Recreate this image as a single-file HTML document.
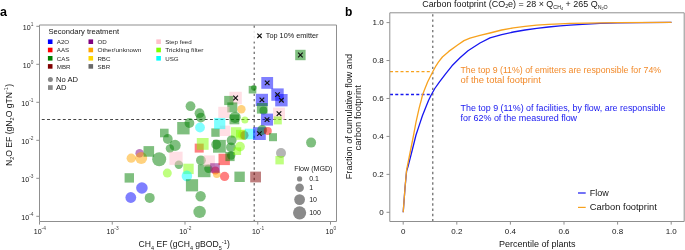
<!DOCTYPE html>
<html><head><meta charset="utf-8"><style>
html,body{margin:0;padding:0;background:#fff;width:685px;height:250px;overflow:hidden}
svg{display:block;will-change:transform}
</style></head><body>
<svg width="685" height="250" viewBox="0 0 685 250" font-family='"Liberation Sans", sans-serif'>
<rect width="685" height="250" fill="#fff"/>
<text x="0" y="16" font-size="12.5" font-weight="bold" fill="#000">a</text>
<line x1="41.8" y1="119.5" x2="336" y2="119.5" stroke="#444" stroke-width="1.1" stroke-dasharray="2.9 2.355"/>
<line x1="254.2" y1="25.4" x2="254.2" y2="221" stroke="#555" stroke-width="1.1" stroke-dasharray="2.4 2.855"/>
<circle cx="131.2" cy="158.2" r="4.6" fill="#ffa500" fill-opacity="0.5"/>
<circle cx="139.6" cy="153.2" r="4.2" fill="#800080" fill-opacity="0.5"/>
<circle cx="141.2" cy="158" r="6" fill="#ffa500" fill-opacity="0.5"/>
<rect x="143.50" y="146.10" width="10.60" height="10.60" fill="#008000" fill-opacity="0.5"/>
<circle cx="159.2" cy="159.2" r="7" fill="#008000" fill-opacity="0.5"/>
<rect x="160.00" y="128.70" width="8.60" height="8.60" fill="#008000" fill-opacity="0.5"/>
<circle cx="167.8" cy="139" r="4.9" fill="#008000" fill-opacity="0.5"/>
<circle cx="175.1" cy="145.4" r="5.6" fill="#008000" fill-opacity="0.5"/>
<circle cx="169.9" cy="148.5" r="4.2" fill="#008000" fill-opacity="0.5"/>
<circle cx="178.8" cy="164.8" r="4.2" fill="#008000" fill-opacity="0.5"/>
<rect x="169.40" y="151.70" width="13.20" height="13.20" fill="#ffc0cb" fill-opacity="0.5"/>
<rect x="177.20" y="122.00" width="12.40" height="12.40" fill="#008000" fill-opacity="0.5"/>
<circle cx="189.4" cy="123" r="4.9" fill="#008000" fill-opacity="0.5"/>
<circle cx="190.5" cy="106.2" r="4.9" fill="#008000" fill-opacity="0.5"/>
<circle cx="199.5" cy="113.2" r="4.9" fill="#008000" fill-opacity="0.5"/>
<circle cx="200.9" cy="117.6" r="4.9" fill="#008000" fill-opacity="0.5"/>
<circle cx="200" cy="127.5" r="4.9" fill="#00ffff" fill-opacity="0.5"/>
<rect x="124.60" y="173.20" width="9.40" height="9.40" fill="#008000" fill-opacity="0.5"/>
<circle cx="141.9" cy="188" r="5.8" fill="#0000ff" fill-opacity="0.5"/>
<circle cx="130.8" cy="197.5" r="5.4" fill="#0000ff" fill-opacity="0.5"/>
<circle cx="149.7" cy="197.9" r="5" fill="#008000" fill-opacity="0.5"/>
<circle cx="167.3" cy="173.1" r="4.5" fill="#7fff00" fill-opacity="0.5"/>
<rect x="183.30" y="163.70" width="10.40" height="10.40" fill="#7fff00" fill-opacity="0.5"/>
<circle cx="186.9" cy="175.9" r="5.3" fill="#00ffff" fill-opacity="0.5"/>
<rect x="185.90" y="179.20" width="12.20" height="12.20" fill="#008000" fill-opacity="0.5"/>
<circle cx="200.6" cy="196.3" r="5.2" fill="#008000" fill-opacity="0.5"/>
<circle cx="199.6" cy="211.9" r="6.2" fill="#008000" fill-opacity="0.5"/>
<circle cx="200.9" cy="160.3" r="4.9" fill="#008000" fill-opacity="0.5"/>
<rect x="197.90" y="164.60" width="12.60" height="12.60" fill="#008000" fill-opacity="0.5"/>
<circle cx="208.4" cy="168.8" r="4.2" fill="#008000" fill-opacity="0.5"/>
<rect x="203.70" y="155.40" width="11.20" height="11.20" fill="#ffc0cb" fill-opacity="0.5"/>
<rect x="194.70" y="143.60" width="9.00" height="9.00" fill="#ff0000" fill-opacity="0.5"/>
<rect x="196.80" y="138.00" width="11.80" height="11.80" fill="#7fff00" fill-opacity="0.5"/>
<circle cx="215.4" cy="170.4" r="4" fill="#ff0000" fill-opacity="0.5"/>
<circle cx="216.8" cy="174.2" r="3.8" fill="#ffa500" fill-opacity="0.5"/>
<rect x="210.20" y="163.20" width="9.60" height="9.60" fill="#800080" fill-opacity="0.5"/>
<circle cx="224.6" cy="176.4" r="4.6" fill="#ff0000" fill-opacity="0.5"/>
<rect x="218.50" y="153.70" width="11.40" height="11.40" fill="#ff0000" fill-opacity="0.5"/>
<rect x="225.40" y="151.90" width="9.20" height="9.20" fill="#008000" fill-opacity="0.5"/>
<circle cx="231.2" cy="155.5" r="4.2" fill="#008000" fill-opacity="0.5"/>
<rect x="234.40" y="171.60" width="10.40" height="10.40" fill="#008000" fill-opacity="0.5"/>
<rect x="250.20" y="171.60" width="10.80" height="10.80" fill="#800000" fill-opacity="0.5"/>
<rect x="211.30" y="128.40" width="8.40" height="8.40" fill="#008000" fill-opacity="0.5"/>
<rect x="219.80" y="125.60" width="10.40" height="10.40" fill="#ffc0cb" fill-opacity="0.5"/>
<rect x="214.10" y="117.90" width="11.20" height="11.20" fill="#00ffff" fill-opacity="0.5"/>
<circle cx="243.1" cy="134.8" r="5" fill="#ffd700" fill-opacity="0.5"/>
<circle cx="244.3" cy="135.2" r="4.3" fill="#800000" fill-opacity="0.5"/>
<rect x="230.90" y="127.20" width="10.40" height="10.40" fill="#7fff00" fill-opacity="0.5"/>
<rect x="236.00" y="129.80" width="10.00" height="10.00" fill="#7fff00" fill-opacity="0.5"/>
<rect x="244.70" y="128.70" width="10.60" height="10.60" fill="#00ffff" fill-opacity="0.5"/>
<circle cx="216.2" cy="144.5" r="4.9" fill="#008000" fill-opacity="0.5"/>
<rect x="213.00" y="139.90" width="12.80" height="12.80" fill="#008000" fill-opacity="0.5"/>
<circle cx="231.6" cy="140.3" r="4.9" fill="#008000" fill-opacity="0.5"/>
<circle cx="230.9" cy="147.3" r="4.9" fill="#008000" fill-opacity="0.5"/>
<circle cx="240" cy="146.6" r="4.9" fill="#7fff00" fill-opacity="0.5"/>
<rect x="233.50" y="147.40" width="7.60" height="7.60" fill="#7fff00" fill-opacity="0.5"/>
<rect x="229.40" y="91.80" width="12.40" height="12.40" fill="#ffc0cb" fill-opacity="0.5"/>
<rect x="224.20" y="95.90" width="9.20" height="9.20" fill="#008000" fill-opacity="0.5"/>
<rect x="227.30" y="102.40" width="10.00" height="10.00" fill="#008000" fill-opacity="0.5"/>
<rect x="218.30" y="106.80" width="11.20" height="11.20" fill="#ffc0cb" fill-opacity="0.5"/>
<circle cx="241.4" cy="109.3" r="4.2" fill="#ffa500" fill-opacity="0.5"/>
<circle cx="235.1" cy="117.3" r="5.6" fill="#008000" fill-opacity="0.5"/>
<rect x="229.50" y="114.50" width="9.80" height="9.80" fill="#008000" fill-opacity="0.5"/>
<circle cx="244.9" cy="120.1" r="3.5" fill="#7fff00" fill-opacity="0.5"/>
<rect x="248.70" y="85.90" width="7.60" height="7.60" fill="#008000" fill-opacity="0.5"/>
<circle cx="253.8" cy="87.8" r="2.8" fill="#008000" fill-opacity="0.5"/>
<rect x="261.30" y="77.00" width="11.80" height="11.80" fill="#0000ff" fill-opacity="0.5"/>
<rect x="271.30" y="88.40" width="12.40" height="12.40" fill="#0000ff" fill-opacity="0.5"/>
<rect x="275.20" y="94.00" width="12.40" height="12.40" fill="#0000ff" fill-opacity="0.5"/>
<rect x="255.80" y="93.80" width="12.20" height="12.20" fill="#0000ff" fill-opacity="0.5"/>
<rect x="256.90" y="103.00" width="10.60" height="10.60" fill="#008000" fill-opacity="0.5"/>
<circle cx="263.4" cy="110.4" r="4" fill="#008000" fill-opacity="0.5"/>
<rect x="273.00" y="107.60" width="12.00" height="12.00" fill="#ffc0cb" fill-opacity="0.5"/>
<rect x="261.00" y="113.60" width="12.00" height="12.00" fill="#0000ff" fill-opacity="0.5"/>
<rect x="273.80" y="116.40" width="8.00" height="8.00" fill="#7fff00" fill-opacity="0.5"/>
<rect x="253.00" y="127.20" width="12.80" height="12.80" fill="#0000ff" fill-opacity="0.5"/>
<circle cx="262.2" cy="130" r="5" fill="#008000" fill-opacity="0.5"/>
<circle cx="267.8" cy="131" r="4" fill="#ff0000" fill-opacity="0.5"/>
<rect x="269.00" y="133.20" width="8.00" height="8.00" fill="#008000" fill-opacity="0.5"/>
<circle cx="311.1" cy="142.6" r="5" fill="#008000" fill-opacity="0.5"/>
<circle cx="281" cy="153" r="5" fill="#696969" fill-opacity="0.5"/>
<rect x="275.40" y="156.00" width="8.40" height="8.40" fill="#7fff00" fill-opacity="0.5"/>
<rect x="295.20" y="49.80" width="10.40" height="10.40" fill="#008000" fill-opacity="0.5"/>
<path d="M233.30 95.70L237.90 100.30M237.90 95.70L233.30 100.30" stroke="#111" stroke-width="1.2" fill="none"/>
<path d="M264.90 80.60L269.50 85.20M269.50 80.60L264.90 85.20" stroke="#111" stroke-width="1.2" fill="none"/>
<path d="M275.20 92.30L279.80 96.90M279.80 92.30L275.20 96.90" stroke="#111" stroke-width="1.2" fill="none"/>
<path d="M279.10 97.90L283.70 102.50M283.70 97.90L279.10 102.50" stroke="#111" stroke-width="1.2" fill="none"/>
<path d="M259.60 97.60L264.20 102.20M264.20 97.60L259.60 102.20" stroke="#111" stroke-width="1.2" fill="none"/>
<path d="M276.70 111.30L281.30 115.90M281.30 111.30L276.70 115.90" stroke="#111" stroke-width="1.2" fill="none"/>
<path d="M264.70 117.30L269.30 121.90M269.30 117.30L264.70 121.90" stroke="#111" stroke-width="1.2" fill="none"/>
<path d="M257.10 131.30L261.70 135.90M261.70 131.30L257.10 135.90" stroke="#111" stroke-width="1.2" fill="none"/>
<path d="M298.10 52.70L302.70 57.30M302.70 52.70L298.10 57.30" stroke="#111" stroke-width="1.2" fill="none"/>
<path d="M39.5 25 H336.5 V221.5 H39.5 Z" fill="none" stroke="#8f8f8f" stroke-width="1"/>
<line x1="36.3" y1="26.3" x2="39.5" y2="26.3" stroke="#8f8f8f" stroke-width="1"/>
<text x="33.4" y="29.8" font-size="7.1" fill="#151515" text-anchor="end">10<tspan font-size="4.8" dy="-3.7" fill="#444">1</tspan></text>
<line x1="36.3" y1="64.3" x2="39.5" y2="64.3" stroke="#8f8f8f" stroke-width="1"/>
<text x="33.4" y="67.8" font-size="7.1" fill="#151515" text-anchor="end">10<tspan font-size="4.8" dy="-3.7" fill="#444">0</tspan></text>
<line x1="36.3" y1="102.3" x2="39.5" y2="102.3" stroke="#8f8f8f" stroke-width="1"/>
<text x="33.4" y="105.8" font-size="7.1" fill="#151515" text-anchor="end">10<tspan font-size="4.8" dy="-3.7" fill="#444">-1</tspan></text>
<line x1="36.3" y1="140.3" x2="39.5" y2="140.3" stroke="#8f8f8f" stroke-width="1"/>
<text x="33.4" y="143.8" font-size="7.1" fill="#151515" text-anchor="end">10<tspan font-size="4.8" dy="-3.7" fill="#444">-2</tspan></text>
<line x1="36.3" y1="178.3" x2="39.5" y2="178.3" stroke="#8f8f8f" stroke-width="1"/>
<text x="33.4" y="181.8" font-size="7.1" fill="#151515" text-anchor="end">10<tspan font-size="4.8" dy="-3.7" fill="#444">-3</tspan></text>
<line x1="36.3" y1="216.3" x2="39.5" y2="216.3" stroke="#8f8f8f" stroke-width="1"/>
<text x="33.4" y="219.8" font-size="7.1" fill="#151515" text-anchor="end">10<tspan font-size="4.8" dy="-3.7" fill="#444">-4</tspan></text>
<line x1="39.50" y1="221.5" x2="39.50" y2="224.6" stroke="#8f8f8f" stroke-width="1"/>
<text x="39.80" y="234.2" font-size="7.1" fill="#151515" text-anchor="middle">10<tspan font-size="4.8" dy="-3.9" fill="#444">-4</tspan></text>
<line x1="112.25" y1="221.5" x2="112.25" y2="224.6" stroke="#8f8f8f" stroke-width="1"/>
<text x="112.55" y="234.2" font-size="7.1" fill="#151515" text-anchor="middle">10<tspan font-size="4.8" dy="-3.9" fill="#444">-3</tspan></text>
<line x1="185.00" y1="221.5" x2="185.00" y2="224.6" stroke="#8f8f8f" stroke-width="1"/>
<text x="185.30" y="234.2" font-size="7.1" fill="#151515" text-anchor="middle">10<tspan font-size="4.8" dy="-3.9" fill="#444">-2</tspan></text>
<line x1="257.75" y1="221.5" x2="257.75" y2="224.6" stroke="#8f8f8f" stroke-width="1"/>
<text x="258.05" y="234.2" font-size="7.1" fill="#151515" text-anchor="middle">10<tspan font-size="4.8" dy="-3.9" fill="#444">-1</tspan></text>
<line x1="330.50" y1="221.5" x2="330.50" y2="224.6" stroke="#8f8f8f" stroke-width="1"/>
<text x="330.80" y="234.2" font-size="7.1" fill="#151515" text-anchor="middle">10<tspan font-size="4.8" dy="-3.9" fill="#444">0</tspan></text>
<text x="138.6" y="247.3" font-size="8.6" fill="#151515">CH<tspan font-size="5.5" dy="2.4">4</tspan><tspan dy="-2.4"> EF (gCH</tspan><tspan font-size="5.5" dy="2.4">4</tspan><tspan dy="-2.4"> gBOD</tspan><tspan font-size="5.5" dy="2.4">5</tspan><tspan font-size="5.5" dy="-6">-1</tspan><tspan dy="3.6" dx="0.3">)</tspan></text>
<text transform="translate(11.8,166) rotate(-90)" font-size="8.6" fill="#151515">N<tspan font-size="5.5" dy="2.4">2</tspan><tspan dy="-2.4">O EF (gN</tspan><tspan font-size="5.5" dy="2.4">2</tspan><tspan dy="-2.4">O gTN</tspan><tspan font-size="5.5" dy="-3.6">-1</tspan><tspan dy="3.6" dx="0.3">)</tspan></text>
<text x="48.5" y="34.3" font-size="7.6" fill="#151515">Secondary treatment</text>
<rect x="47.9" y="39.4" width="4.6" height="4.6" fill="#0000ff"/>
<text x="56.8" y="43.9" font-size="6.2" fill="#2a2a2a">A2O</text>
<rect x="47.9" y="47.7" width="4.6" height="4.6" fill="#ff0000"/>
<text x="56.8" y="52.2" font-size="6.2" fill="#2a2a2a">AAS</text>
<rect x="47.9" y="56.0" width="4.6" height="4.6" fill="#008000"/>
<text x="56.8" y="60.5" font-size="6.2" fill="#2a2a2a">CAS</text>
<rect x="47.9" y="64.1" width="4.6" height="4.6" fill="#800000"/>
<text x="56.8" y="68.6" font-size="6.2" fill="#2a2a2a">MBR</text>
<rect x="88.5" y="39.4" width="4.6" height="4.6" fill="#800080"/>
<text x="97.4" y="43.9" font-size="6.2" fill="#2a2a2a">OD</text>
<rect x="88.5" y="47.7" width="4.6" height="4.6" fill="#ffa500"/>
<text x="97.4" y="52.2" font-size="6.2" fill="#2a2a2a" textLength="44" lengthAdjust="spacingAndGlyphs">Other/unknown</text>
<rect x="88.5" y="56.0" width="4.6" height="4.6" fill="#ffd700"/>
<text x="97.4" y="60.5" font-size="6.2" fill="#2a2a2a">RBC</text>
<rect x="88.5" y="64.1" width="4.6" height="4.6" fill="#696969"/>
<text x="97.4" y="68.6" font-size="6.2" fill="#2a2a2a">SBR</text>
<rect x="156.3" y="39.4" width="4.6" height="4.6" fill="#ffc0cb"/>
<text x="165.2" y="43.9" font-size="6.2" fill="#2a2a2a" textLength="26.6" lengthAdjust="spacingAndGlyphs">Step feed</text>
<rect x="156.3" y="47.7" width="4.6" height="4.6" fill="#7fff00"/>
<text x="165.2" y="52.2" font-size="6.2" fill="#2a2a2a" textLength="38.3" lengthAdjust="spacingAndGlyphs">Trickling filter</text>
<rect x="156.3" y="56.0" width="4.6" height="4.6" fill="#00ffff"/>
<text x="165.2" y="60.5" font-size="6.2" fill="#2a2a2a">USG</text>
<circle cx="50.4" cy="79.5" r="2.5" fill="#888"/>
<text x="56" y="81.8" font-size="7.6" fill="#151515">No AD</text>
<rect x="48" y="85.2" width="4.7" height="4.7" fill="#888"/>
<text x="56" y="89.6" font-size="7.6" fill="#151515">AD</text>
<rect x="252" y="29.3" width="72" height="12.3" fill="#fff" fill-opacity="0.85"/>
<path d="M257.30 33.60L261.70 38.00M261.70 33.60L257.30 38.00" stroke="#111" stroke-width="1.2" fill="none"/>
<text x="265.8" y="37.7" font-size="7.3" fill="#151515">Top 10% emitter</text>
<text x="294.2" y="171.4" font-size="7.1" fill="#151515">Flow (MGD)</text>
<circle cx="299.6" cy="178.9" r="2.6" fill="#8a8a8a"/>
<text x="309.2" y="181.4" font-size="7" fill="#151515">0.1</text>
<circle cx="299.6" cy="187.8" r="4.3" fill="#8a8a8a"/>
<text x="309.2" y="190.3" font-size="7" fill="#151515">1</text>
<circle cx="299.6" cy="199.6" r="5.4" fill="#8a8a8a"/>
<text x="309.2" y="202.1" font-size="7" fill="#151515">10</text>
<circle cx="299.6" cy="212.8" r="6.6" fill="#8a8a8a"/>
<text x="309.2" y="215.3" font-size="7" fill="#151515">100</text>
<text x="345" y="15.8" font-size="12" font-weight="bold" fill="#000">b</text>
<text x="422.2" y="6.6" font-size="8.95" fill="#151515">Carbon footprint (CO<tspan font-size="5.3" dy="1.8">2</tspan><tspan dy="-1.8">e) = 28 &#215; Q</tspan><tspan font-size="5.3" dy="2">CH</tspan><tspan font-size="3.8" dy="1">4</tspan><tspan dy="-3"> + 265 Q</tspan><tspan font-size="5.3" dy="2">N</tspan><tspan font-size="3.8" dy="1">2</tspan><tspan font-size="5.3" dy="-1">O</tspan></text>
<line x1="432.8" y1="14.15" x2="432.8" y2="221" stroke="#555" stroke-width="1.1" stroke-dasharray="2.4 2.855"/>
<line x1="390" y1="71.7" x2="432" y2="71.7" stroke="#f7a21e" stroke-width="1.3" stroke-dasharray="3 2.255"/>
<line x1="390" y1="94.5" x2="432" y2="94.5" stroke="#1616f0" stroke-width="1.3" stroke-dasharray="3 2.255"/>
<polyline points="403.2,212.3 405,188 406.6,171 408,166.5 412,151 416,135 419.2,125.4 422.4,115.8 425.6,107.8 428.5,100.5 431.2,95 434.8,88.5 439.5,81.8 445.6,73.8 452,65.8 460,57.8 468,50.8 480,43 490,37.8 501.7,34.6 513.4,32 525,30 536.7,28.3 548.4,27 560.1,25.9 570,25.2 582.5,24.4 600,23.4 617.5,22.9 640,22.6 671.5,22.4" fill="none" stroke="#1616f0" stroke-width="1.3" stroke-linejoin="round"/>
<polyline points="403.2,212.3 405,188 406.6,170 407.2,167 410.4,151 413.6,135 416,122.2 419.2,107.8 421.3,100 422.4,95.5 424,91 427.6,82 433,71.2 436,65.8 438.4,62.2 442.4,57 448.8,51.4 457.6,45 464,40.6 470,38.2 480,35.4 490,33 501.7,30 513.4,27.9 525,26.4 536.7,25.2 548.4,24.4 560.1,23.8 570,23.4 617.5,22.7 671.5,22.4" fill="none" stroke="#f7a21e" stroke-width="1.3" stroke-linejoin="round"/>
<path d="M389.8 12.8 H684.2 V221.5 H389.8 Z" fill="none" stroke="#8f8f8f" stroke-width="1"/>
<line x1="386.5" y1="212.30" x2="389.8" y2="212.30" stroke="#8f8f8f" stroke-width="1"/>
<text x="383.6" y="215.10" font-size="8" fill="#151515" text-anchor="end">0</text>
<line x1="403.20" y1="221.5" x2="403.20" y2="224.6" stroke="#8f8f8f" stroke-width="1"/>
<text x="403.20" y="233.6" font-size="8" fill="#151515" text-anchor="middle">0</text>
<line x1="386.5" y1="174.36" x2="389.8" y2="174.36" stroke="#8f8f8f" stroke-width="1"/>
<text x="383.6" y="177.16" font-size="8" fill="#151515" text-anchor="end">0.2</text>
<line x1="456.80" y1="221.5" x2="456.80" y2="224.6" stroke="#8f8f8f" stroke-width="1"/>
<text x="456.80" y="233.6" font-size="8" fill="#151515" text-anchor="middle">0.2</text>
<line x1="386.5" y1="136.42" x2="389.8" y2="136.42" stroke="#8f8f8f" stroke-width="1"/>
<text x="383.6" y="139.22" font-size="8" fill="#151515" text-anchor="end">0.4</text>
<line x1="510.40" y1="221.5" x2="510.40" y2="224.6" stroke="#8f8f8f" stroke-width="1"/>
<text x="510.40" y="233.6" font-size="8" fill="#151515" text-anchor="middle">0.4</text>
<line x1="386.5" y1="98.48" x2="389.8" y2="98.48" stroke="#8f8f8f" stroke-width="1"/>
<text x="383.6" y="101.28" font-size="8" fill="#151515" text-anchor="end">0.6</text>
<line x1="564.00" y1="221.5" x2="564.00" y2="224.6" stroke="#8f8f8f" stroke-width="1"/>
<text x="564.00" y="233.6" font-size="8" fill="#151515" text-anchor="middle">0.6</text>
<line x1="386.5" y1="60.54" x2="389.8" y2="60.54" stroke="#8f8f8f" stroke-width="1"/>
<text x="383.6" y="63.34" font-size="8" fill="#151515" text-anchor="end">0.8</text>
<line x1="617.60" y1="221.5" x2="617.60" y2="224.6" stroke="#8f8f8f" stroke-width="1"/>
<text x="617.60" y="233.6" font-size="8" fill="#151515" text-anchor="middle">0.8</text>
<line x1="386.5" y1="22.60" x2="389.8" y2="22.60" stroke="#8f8f8f" stroke-width="1"/>
<text x="383.6" y="25.40" font-size="8" fill="#151515" text-anchor="end">1.0</text>
<line x1="671.20" y1="221.5" x2="671.20" y2="224.6" stroke="#8f8f8f" stroke-width="1"/>
<text x="671.20" y="233.6" font-size="8" fill="#151515" text-anchor="middle">1.0</text>
<text x="537.3" y="246.9" font-size="9" fill="#151515" text-anchor="middle">Percentile of plants</text>
<text transform="translate(351.9,116.6) rotate(-90)" font-size="8.8" fill="#151515" text-anchor="middle" textLength="125.2" lengthAdjust="spacingAndGlyphs">Fraction of cumulative flow and</text>
<text transform="translate(361.4,117.8) rotate(-90)" font-size="8.8" fill="#151515" text-anchor="middle" textLength="65.2" lengthAdjust="spacingAndGlyphs">carbon footprint</text>
<text x="460.5" y="73.1" font-size="8.7" fill="#f28a2a" textLength="200.6" lengthAdjust="spacingAndGlyphs">The top 9 (11%) of emitters are responsible for 74%</text>
<text x="460.5" y="83.4" font-size="8.7" fill="#f28a2a" textLength="80.3" lengthAdjust="spacingAndGlyphs">of the total footprint</text>
<text x="460.5" y="110.8" font-size="8.7" fill="#1616f0" textLength="205" lengthAdjust="spacingAndGlyphs">The top 9 (11%) of facilities, by flow, are responsible</text>
<text x="460.5" y="121" font-size="8.7" fill="#1616f0" textLength="116.6" lengthAdjust="spacingAndGlyphs">for 62% of the measured flow</text>
<line x1="578" y1="193" x2="585.7" y2="193" stroke="#1616f0" stroke-width="1.2"/>
<text x="589.8" y="195.8" font-size="9" fill="#151515">Flow</text>
<line x1="578" y1="207.4" x2="585.7" y2="207.4" stroke="#f7a21e" stroke-width="1.2"/>
<text x="589.8" y="210.2" font-size="9" fill="#151515" textLength="67" lengthAdjust="spacingAndGlyphs">Carbon footprint</text>
</svg>
</body></html>
